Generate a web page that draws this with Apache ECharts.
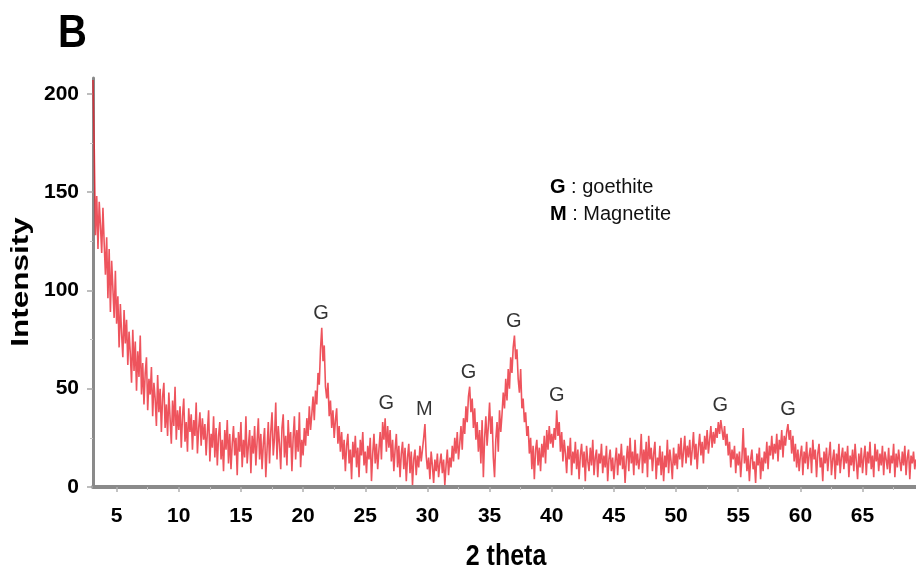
<!DOCTYPE html>
<html>
<head>
<meta charset="utf-8">
<script src="https://cdn.jsdelivr.net/npm/echarts@6/dist/echarts.min.js"></script>
<style>
html,body{margin:0;padding:0;background:#fff;}
#chart{width:916px;height:577px;}
</style>
</head>
<body>
<div id="chart"></div>
<script>
// ---- data ----
var startDeg = 3.1;     // first 2-theta sample
var stepDeg = 0.1;      // sampling step of the scan
var intensity = [
  207,172,128,148,121,145,133,119,142,124,
  108,127,96,121,89,115,101,86,110,83,
  97,71,93,78,66,90,73,85,62,79,
  68,53,80,59,74,49,69,56,77,47,
  63,42,58,66,39,55,47,61,36,53,
  45,31,57,38,50,28,46,53,30,42,
  26,48,35,22,44,31,51,24,39,29,
  41,20,36,45,23,33,18,40,28,37,
  19,34,26,43,17,30,38,21,35,24,
  32,16,28,39,13,27,20,36,15,30,
  11,26,33,14,24,8,29,19,34,12,
  27,9,22,31,16,25,6,28,18,33,
  10,24,15,36,12,21,29,7,26,17,
  31,11,23,35,14,27,9,22,30,5,
  19,33,12,28,38,16,25,43,14,31,
  22,9,30,37,15,26,11,34,20,28,
  8,25,36,14,29,18,38,10,24,16,
  30,21,35,26,41,29,37,46,34,49,
  42,58,52,70,81,64,72,51,45,53,
  36,44,30,39,25,34,40,22,31,18,
  28,14,24,8,21,27,12,19,4,23,
  15,26,10,20,5,24,16,28,11,18,
  7,21,14,25,3,17,27,12,22,9,
  19,28,14,33,24,35,18,31,20,29,
  13,24,8,19,27,10,21,5,17,23,
  9,20,3,15,22,7,18,1,14,19,
  6,16,10,21,13,19,25,32,16,9,
  15,4,18,11,2,14,8,17,5,12,
  17,7,14,1,11,19,6,15,10,21,
  13,25,17,28,14,22,31,19,35,27,
  41,33,46,51,38,45,30,40,24,33,
  18,29,12,34,5,25,36,21,31,43,
  27,36,15,5,24,33,18,39,28,37,
  48,40,55,44,60,50,66,58,71,77,
  65,70,55,48,60,40,45,33,38,26,
  31,17,25,9,21,4,19,24,11,20,
  8,22,15,26,12,29,19,31,22,27,
  20,30,24,39,26,33,18,28,13,24,
  17,7,21,14,25,6,18,12,23,9,
  19,4,16,22,10,18,3,21,13,8,
  20,11,24,6,15,19,5,17,12,22,
  7,16,10,21,3,14,19,8,15,4,
  13,20,6,17,11,22,9,16,2,14,
  21,8,25,12,18,6,24,11,17,9,
  15,27,7,19,12,23,5,26,14,20,
  8,17,23,4,15,11,21,6,18,3,
  16,10,24,7,19,13,4,20,11,17,
  9,22,14,25,10,18,26,12,21,15,
  24,11,19,28,14,22,9,20,27,16,
  23,12,26,19,29,17,24,31,20,28,
  22,30,25,33,27,34,29,24,31,21,
  27,16,23,10,19,14,21,7,17,11,
  18,5,15,30,12,20,8,16,3,14,
  19,9,13,2,17,11,20,4,15,8,
  18,12,23,9,21,16,26,14,22,17,
  27,13,24,19,29,15,26,21,28,32,
  24,29,17,26,13,22,10,19,8,16,
  21,6,18,12,23,9,16,20,7,24,
  14,19,5,17,22,10,15,3,18,12,
  20,8,16,23,6,14,19,4,17,11,
  22,7,15,20,9,18,12,21,5,16,
  11,19,8,22,13,4,17,10,20,7,
  15,21,6,18,12,23,9,16,5,22,
  13,19,8,17,11,21,6,18,14,9,
  20,7,16,12,22,5,17,10,19,13,
  8,18,11,21,6,15,19,4,16,12,
  18,9,14
];
var peakTheta = [21.45, 26.7, 29.75, 33.3, 36.95, 40.4, 53.55, 59.0];
var peakIntensity = [81, 35, 32, 51, 77, 39, 34, 32];
var peakPhase = ['G', 'G', 'M', 'G', 'G', 'G', 'G', 'G'];
var xTickValues = [5, 10, 15, 20, 25, 30, 35, 40, 45, 50, 55, 60, 65];
var xMinorValues = [7.5, 12.5, 17.5, 22.5, 27.5, 32.5, 37.5, 42.5, 47.5, 52.5, 57.5, 62.5, 67.5];
var yTickValues = [0, 50, 100, 150, 200];
var yMinorValues = [25, 75, 125, 175];
var phaseNames = [['G', 'goethite'], ['M', 'Magnetite']];

// ---- build ----
var lineData = intensity.map(function (v, i) {
  return [Math.round((startDeg + i * stepDeg) * 10) / 10, v];
});
var peakData = peakTheta.map(function (t, i) {
  return { value: [t, peakIntensity[i]], label: { formatter: peakPhase[i] } };
});

var fontFam = '"Liberation Sans", Arial, sans-serif';
var axisGrey = '#8a8a8a';
var X_MIN = 3.1, X_MAX = 69.3, Y_MIN = 0, Y_MAX = 208;

var chart = echarts.init(document.getElementById('chart'), null, { renderer: 'canvas' });
chart.setOption({
  animation: false,
  backgroundColor: '#ffffff',
  grid: { left: 93, right: 0, top: 78, bottom: 90, containLabel: false },
  xAxis: [{
    type: 'value', min: X_MIN, max: X_MAX,
    axisLine: { show: true, onZero: false, lineStyle: { color: axisGrey, width: 4 } },
    axisTick: { show: true, customValues: xTickValues, length: 5, lineStyle: { color: '#b0b0b0', width: 1.5 } },
    axisLabel: { customValues: xTickValues, margin: 19, color: '#000', fontWeight: 'bold', fontSize: 21, fontFamily: fontFam },
    splitLine: { show: false }
  }, {
    type: 'value', min: X_MIN, max: X_MAX, position: 'bottom',
    axisLine: { show: false, onZero: false },
    axisTick: { show: true, customValues: xMinorValues, length: 3, lineStyle: { color: '#c4c4c4', width: 1 } },
    axisLabel: { show: false },
    splitLine: { show: false }
  }],
  yAxis: [{
    type: 'value', min: Y_MIN, max: Y_MAX,
    axisLine: { show: true, onZero: false, lineStyle: { color: axisGrey, width: 3 } },
    axisTick: { show: true, customValues: yTickValues, length: 6, lineStyle: { color: '#a8a8a8', width: 1.5 } },
    axisLabel: { customValues: yTickValues, margin: 14, color: '#000', fontWeight: 'bold', fontSize: 21, fontFamily: fontFam },
    splitLine: { show: false }
  }, {
    type: 'value', min: Y_MIN, max: Y_MAX, position: 'left',
    axisLine: { show: false, onZero: false },
    axisTick: { show: true, customValues: yMinorValues, length: 3, lineStyle: { color: '#c4c4c4', width: 1 } },
    axisLabel: { show: false },
    splitLine: { show: false }
  }],
  series: [{
    type: 'line',
    data: lineData,
    showSymbol: false,
    symbol: 'none',
    sampling: null,
    clip: true,
    lineStyle: { color: 'rgba(232,18,30,0.72)', width: 1.6 },
    z: 2
  }, {
    type: 'scatter',
    data: peakData,
    symbolSize: 1,
    itemStyle: { color: 'rgba(0,0,0,0)' },
    label: {
      show: true, position: 'top', distance: 4,
      color: '#000', fontSize: 20,
      fontFamily: fontFam
    },
    silent: true,
    z: 3
  }],
  graphic: [
    { type: 'text', x: 58, y: 34, scaleY: 1.15,
      style: { text: 'B', font: 'bold 40px "Liberation Sans", Arial, sans-serif', fill: '#000', textAlign: 'left', textVerticalAlign: 'middle' } },
    { type: 'text', x: 22, y: 282, rotation: Math.PI / 2, scaleX: 1.37,
      style: { text: 'Intensity', font: 'bold 23px "Liberation Sans", Arial, sans-serif', fill: '#000', textAlign: 'center', textVerticalAlign: 'middle' } },
    { type: 'text', x: 506, y: 557, scaleY: 1.2,
      style: { text: '2 theta', font: 'bold 25px "Liberation Sans", Arial, sans-serif', fill: '#000', textAlign: 'center', textVerticalAlign: 'middle' } },
    { type: 'text', x: 550, y: 187,
      style: { text: '{b|' + phaseNames[0][0] + '} : ' + phaseNames[0][1], font: '20px "Liberation Sans", Arial, sans-serif', fill: '#111', textVerticalAlign: 'middle',
        rich: { b: { fontWeight: 'bold', fontSize: 20, fontFamily: fontFam, fill: '#000' } } } },
    { type: 'text', x: 550, y: 214,
      style: { text: '{b|' + phaseNames[1][0] + '} : ' + phaseNames[1][1], font: '20px "Liberation Sans", Arial, sans-serif', fill: '#111', textVerticalAlign: 'middle',
        rich: { b: { fontWeight: 'bold', fontSize: 20, fontFamily: fontFam, fill: '#000' } } } }
  ]
});
</script>
</body>
</html>
